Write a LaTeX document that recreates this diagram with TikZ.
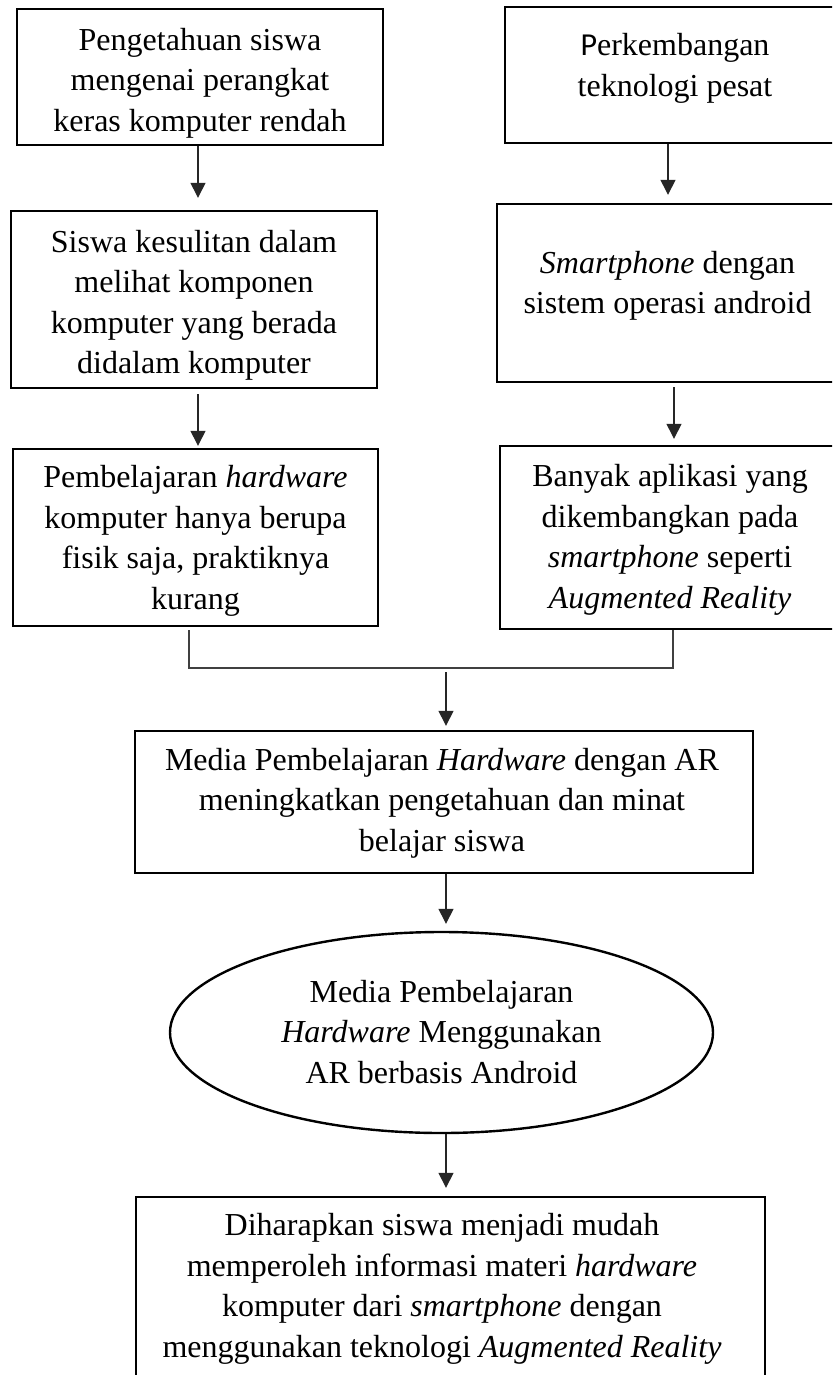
\documentclass[tikz,border=0pt]{standalone}
\usepackage{fontspec}
\setmainfont{Liberation Serif}
\newfontfamily\calib{Carlito}
\usetikzlibrary{arrows.meta,shapes.geometric}
\begin{document}
\begin{tikzpicture}[x=0.5pt,y=-0.5pt,
  every node/.style={font=\fontsize{16pt}{20.25pt}\selectfont},
  box/.style={draw=black,line width=1.2pt,inner sep=0pt,fill=none},
  txt/.style={align=center,inner sep=0pt},
  arr/.style={draw=black!85,line width=0.7pt,-{Triangle[width=7.5pt,length=7.5pt]}},
  conn/.style={draw=black!75,line width=0.7pt}]
\useasboundingbox (0,0) rectangle (832,1375);
\clip (0,0) rectangle (832,1375);
% boxes
\node[box,minimum width=183pt,minimum height=68pt] (b1) at (200,77) {};
\node[box,minimum width=170pt,minimum height=68pt] (b2) at (675,75) {};
\node[box,minimum width=183pt,minimum height=88.5pt] (b3) at (194,299.5) {};
\node[box,minimum width=170.5pt,minimum height=89pt] (b4) at (667.5,293) {};
\node[box,minimum width=182.5pt,minimum height=88.5pt] (b5) at (195.5,537.5) {};
\node[box,minimum width=170pt,minimum height=91.5pt] (b6) at (670,537.5) {};
\node[box,minimum width=309pt,minimum height=71pt] (m) at (444,802) {};
\node[box,ellipse,minimum width=271.5pt,minimum height=100.5pt] (e) at (441.5,1032.5) {};
\node[box,minimum width=314.5pt,minimum height=111.5pt] (f) at (450.5,1308.5) {};
% texts
\node[txt] (t1) at (200,83) {Pengetahuan siswa\\mengenai perangkat\\keras komputer rendah};
\node[txt] (t2) at (675,68.5) {{\calib P}erkembangan\\teknologi pesat};
\node[txt] (t3) at (194,305.5) {Siswa kesulitan dalam\\melihat komponen\\komputer yang berada\\didalam komputer};
\node[txt] (t4) at (667.5,286) {\textit{Smartphone} dengan\\sistem operasi android};
\node[txt] (t5) at (195.5,541) {Pembelajaran \textit{hardware}\\komputer hanya berupa\\fisik saja, praktiknya\\kurang};
\node[txt] (t6) at (670,540) {Banyak aplikasi yang\\dikembangkan pada\\\textit{smartphone} seperti\\\textit{Augmented Reality}};
\node[txt] (tm) at (442,803) {Media Pembelajaran \textit{Hardware} dengan AR\\meningkatkan pengetahuan dan minat\\belajar siswa};
\node[txt] (te) at (441.5,1032) {Media Pembelajaran\\\textit{Hardware} Menggunakan\\AR berbasis Android};
\node[txt] (tf) at (442,1289) {Diharapkan siswa menjadi mudah\\memperoleh informasi materi \textit{hardware}\\komputer dari \textit{smartphone} dengan\\menggunakan teknologi \textit{Augmented Reality}};
% arrows
\draw[arr,shorten >=6pt] (b1.south -| 198,0) -- (b3.north -| 198,0);
\draw[arr,shorten <=2.5pt,shorten >=1pt] (b3.south -| 198,0) -- (b5.north -| 198,0);
\draw[arr,shorten >=4pt] (b2.south -| 668,0) -- (b4.north -| 668,0);
\draw[arr,shorten <=2pt,shorten >=3pt] (b4.south -| 674,0) -- (b6.north -| 674,0);
% joining connector
\coordinate (jl) at (189,668);
\coordinate (jr) at (673,668);
\coordinate (jm) at (446,672);
\draw[conn,shorten <=1.5pt] (b5.south -| jl) -- (jl) -- (jr) -- (b6.south -| jr);
\draw[arr,shorten >=2pt] (jm) -- (m.north -| jm);
\draw[arr,shorten >=3.5pt] (m.south -| 446,0) -- (e.north -| 446,0);
\draw[arr,shorten >=4pt] (e.south -| 446,0) -- (f.north -| 446,0);
\end{tikzpicture}
\end{document}
